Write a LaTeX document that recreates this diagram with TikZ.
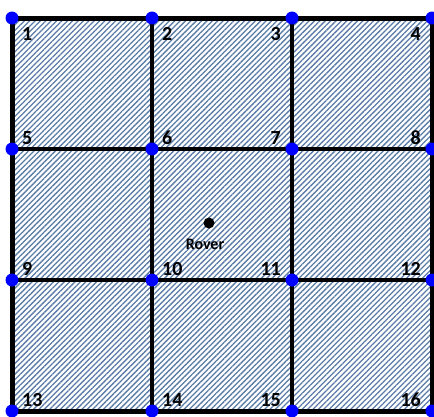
\documentclass[tikz,border=0pt]{standalone}
\usepackage{fontspec}
\setmainfont{Carlito}
\usepackage{xcolor}
\definecolor{hatchBlue}{HTML}{5A7BA6}
\definecolor{dotBlue}  {HTML}{0000FF}
\usetikzlibrary{positioning, calc, patterns.meta}
\tikzset{
    gridpt/.style={circle, fill=dotBlue, minimum size=13pt, inner sep=0pt},
    num/.style={font=\fontsize{20}{22}\selectfont\bfseries, inner sep=0pt},
    rover/.style={circle, fill=black, minimum size=11pt, inner sep=0pt},
    outerline/.style={line width=5pt, line join=miter},
    innerline/.style={line width=3.5pt},
    hatch/.style={pattern={Lines[angle=45, distance=3.8pt, line width=1.3pt]},
                  pattern color=hatchBlue},
}

\begin{document}
\begin{tikzpicture}[x=1pt, y=-1pt]
    \useasboundingbox (0,0) rectangle (434,416);
    % corners of the grid
    \foreach \y [count=\r from 0] in {18,149,280,411} {
        \foreach \x [count=\c] in {12,152,292,432} {
            \pgfmathtruncatemacro\k{4*\r+\c}
            \coordinate (c\k) at (\x,\y);
        }
    }
    \fill[hatch] (c1) rectangle (c16);
    \draw[innerline] (c2) -- (c14);
    \draw[innerline] (c3) -- (c15);
    \draw[innerline] (c5) -- (c8);
    \draw[innerline] (c9) -- (c12);
    \draw[outerline] (c1) rectangle (c16);
    % points and their numbers
    \foreach \r in {0,...,3} {
        \foreach \c in {1,...,4} {
            \pgfmathtruncatemacro\k{4*\r+\c}
            \node[gridpt] (p\k) at (c\k) {};
            \pgfmathsetmacro\dy{\r==0 ? 16 : -11}
            \ifnum\c<3
                \node[num, anchor=west] (n\k) at ($(p\k)+(10,\dy)$) {\k};
            \else
                \node[num, anchor=east] (n\k) at ($(p\k)+(-11,\dy)$) {\k};
            \fi
        }
    }
    \node[rover] (rv) at (209,223) {};
    \node[num, font=\fontsize{16}{18}\selectfont\bfseries,
          below=10pt of rv, xshift=-4pt] (rvname) {Rover};
\end{tikzpicture}
\end{document}
